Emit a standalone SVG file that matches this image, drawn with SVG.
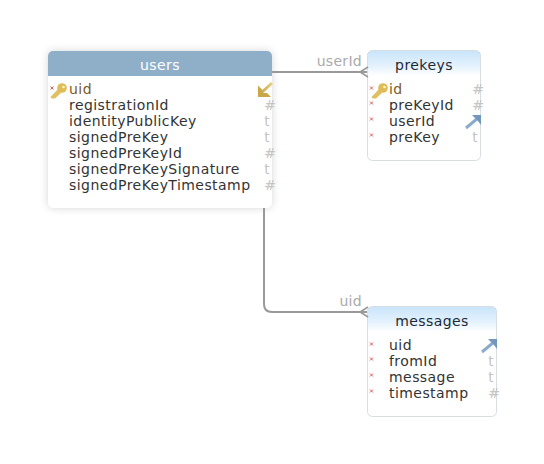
<svg xmlns="http://www.w3.org/2000/svg" width="544" height="464" viewBox="0 0 544 464">
<style>
text{font-family:"DejaVu Sans",sans-serif;font-size:14px;fill:#333;letter-spacing:.44px}
.title{text-anchor:middle;fill:#1c2a36}
.white{fill:#fff}
.fk{fill:#7a5a1c}
.type{fill:#c4c4c4;text-anchor:middle;letter-spacing:0}
.lbl{fill:#aaa;text-anchor:end;letter-spacing:.3px}
.card{fill:none;stroke:#d8dde2;stroke-width:1}
.conn{fill:none;stroke:#999;stroke-width:2}
.foot{fill:none;stroke:#999;stroke-width:1.6}
.x{stroke:#c85050;stroke-width:.9;fill:none}
</style>
<defs>
<linearGradient id="hd" x1="0" y1="0" x2="0" y2="1"><stop offset="0" stop-color="#c9e5fb"/><stop offset=".6" stop-color="#e4f2fd"/><stop offset="1" stop-color="#fff"/></linearGradient>
<linearGradient id="gold" x1="0" y1="1" x2="1" y2="0"><stop offset="0" stop-color="#c9a84a"/><stop offset="1" stop-color="#e6cf88"/></linearGradient>
<filter id="sh" x="-15%" y="-15%" width="130%" height="130%"><feGaussianBlur stdDeviation="4"/></filter>
<g id="key"><path d="M3-8L-4.500 0L-3.500 1.500L0 1.500L6-4Z" fill="#e0c065"/><circle cx="7" cy="-9" r="4.800" fill="#dfbc55"/><circle cx="8.500" cy="-10" r="1.300" fill="#fff4c8"/></g>
<path id="mk" class="x" d="M-1.500-1.500L1.500 1.500M-1.500 1.500L1.500-1.500"/>
<g id="au"><path d="M0 0L-11 10" stroke="url(#gold)" stroke-width="3" fill="none"/><path d="M-14 2.500V14H-1L-5 10H-10V6.500Z" fill="#c9a84a"/></g>
<g id="ab"><path d="M-15 13L-3 3" stroke="#8aabcb" stroke-width="3" fill="none"/><path d="M-9 0H0V10L-3 6Z" fill="#7497bd"/></g>
</defs>
<g id="users">
<rect x="48" y="51" width="224" height="157" rx="5" fill="#000" opacity=".16" filter="url(#sh)"/>
<rect x="48" y="51" width="224" height="157" rx="5" fill="#fff"/>
<path d="M48 76V56a5 5 0 0 1 5-5H267a5 5 0 0 1 5 5V76Z" fill="#8fafc9"/>
<text class="title white" x="160" y="70">users</text>
<use href="#mk" x="52" y="88"/><use href="#key" x="55" y="97"/>
<text class="fk" x="69" y="94">uid</text>
<text x="69" y="110">registrationId</text>
<text x="69" y="126">identityPublicKey</text>
<text x="69" y="142">signedPreKey</text>
<text x="69" y="158">signedPreKeyId</text>
<text x="69" y="174">signedPreKeySignature</text>
<text x="69" y="190">signedPreKeyTimestamp</text>
<use href="#au" x="272" y="83"/>
<text class="type" x="270" y="110">#</text><text class="type" x="267" y="126">t</text><text class="type" x="267" y="142">t</text><text class="type" x="270" y="158">#</text><text class="type" x="267" y="174">t</text><text class="type" x="270" y="190">#</text>
</g>
<g id="prekeys">
<path d="M367.500 76V55a4 4 0 0 1 4-4H476.500a4 4 0 0 1 4 4V76Z" fill="url(#hd)"/>
<rect class="card" x="367.500" y="50.500" width="113" height="110" rx="5"/>
<text class="title" x="424" y="70">prekeys</text>
<use href="#mk" x="371.500" y="88"/><use href="#key" x="376" y="97"/>
<text class="fk" x="389" y="94">id</text>
<use href="#mk" x="371.500" y="103"/><text x="389" y="110">preKeyId</text>
<use href="#mk" x="371.500" y="119"/><text x="389" y="126">userId</text>
<use href="#mk" x="371.500" y="135"/><text x="389" y="142">preKey</text>
<text class="type" x="478" y="94">#</text><text class="type" x="478" y="110">#</text>
<use href="#ab" x="481" y="115"/>
<text class="type" x="475" y="142">t</text>
</g>
<g id="messages">
<path d="M367.500 332V311a4 4 0 0 1 4-4H492.500a4 4 0 0 1 4 4V332Z" fill="url(#hd)"/>
<rect class="card" x="367.500" y="306.500" width="129" height="110" rx="5"/>
<text class="title" x="432" y="326">messages</text>
<use href="#mk" x="371.500" y="344"/><text x="389" y="350">uid</text>
<use href="#mk" x="371.500" y="359"/><text x="389" y="366">fromId</text>
<use href="#mk" x="371.500" y="375"/><text x="389" y="382">message</text>
<use href="#mk" x="371.500" y="391"/><text x="389" y="398">timestamp</text>
<use href="#ab" x="497" y="339"/>
<text class="type" x="491" y="366">t</text><text class="type" x="491" y="382">t</text><text class="type" x="494" y="398">#</text>
</g>
<g id="connectors">
<path class="conn" d="M272 72H367"/>
<path class="foot" d="M368 67L360 72L368 77"/>
<text class="lbl" x="362" y="66">userId</text>
<path class="conn" d="M264 208V304Q264 312 272 312H367"/>
<path class="foot" d="M368 307L360 312L368 317"/>
<text class="lbl" x="362" y="306">uid</text>
</g>
</svg>
